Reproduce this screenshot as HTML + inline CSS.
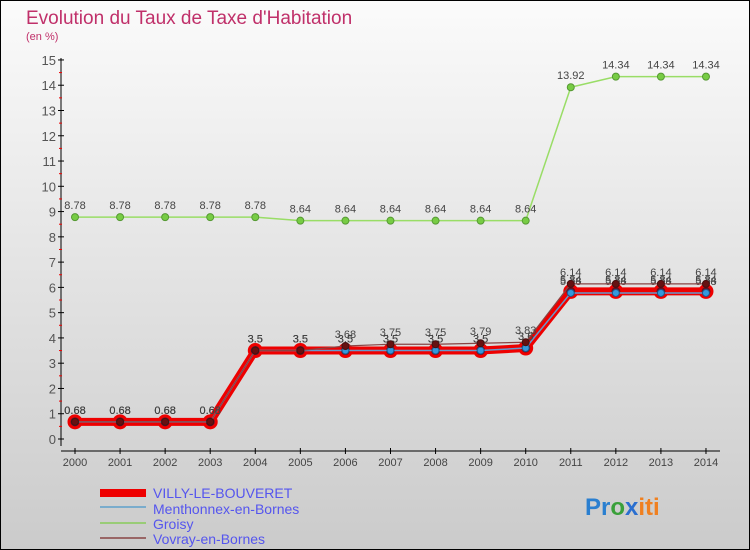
<!DOCTYPE html>
<html><head><meta charset="utf-8"><style>
body{margin:0;width:750px;height:550px;overflow:hidden;font-family:"Liberation Sans",sans-serif}
svg{display:block}
</style></head><body>
<svg id="chart" width="750" height="550" xmlns="http://www.w3.org/2000/svg">
<defs><linearGradient id="bg" x1="0" y1="0" x2="0" y2="1"><stop offset="0" stop-color="#fbfbfb"/><stop offset="1" stop-color="#cbcbcb"/></linearGradient></defs>
<rect x="0.5" y="0.5" width="749" height="549" fill="url(#bg)" stroke="#000"/>
<text x="26" y="24" font-size="19" fill="#c0306a">Evolution du Taux de Taxe d'Habitation</text>
<text x="26" y="40" font-size="11" fill="#c0306a">(en %)</text>
<g id="axes"></g><g id="series"></g>
<g font-size="14" fill="#5555ee">
<rect x="100" y="489" width="46" height="8" fill="#e00"/>
<text x="153" y="498">VILLY-LE-BOUVERET</text>
<line x1="100" y1="507" x2="146" y2="507" stroke="#7aaccc" stroke-width="2"/>
<text x="153" y="514">Menthonnex-en-Bornes</text>
<line x1="100" y1="523" x2="146" y2="523" stroke="#99cc77" stroke-width="2"/>
<text x="153" y="529">Groisy</text>
<line x1="100" y1="538" x2="146" y2="538" stroke="#996666" stroke-width="2"/>
<text x="153" y="544">Vovray-en-Bornes</text>
</g>
<text x="585" y="515" font-size="24" font-weight="bold"><tspan fill="#2a7fd0">Pr</tspan><tspan fill="#3aa03a">o</tspan><tspan fill="#2a6fd0">x</tspan><tspan fill="#f08020">iti</tspan></text>
</svg>
<script>
const years=[2000,2001,2002,2003,2004,2005,2006,2007,2008,2009,2010,2011,2012,2013,2014];
const villy=[0.68,0.68,0.68,0.68,3.5,3.5,3.5,3.5,3.5,3.5,3.6,5.84,5.84,5.84,5.84];
const menthonnex=[0.68,0.68,0.68,0.68,3.5,3.5,3.5,3.5,3.5,3.5,3.6,5.78,5.78,5.78,5.78];
const groisy=[8.78,8.78,8.78,8.78,8.78,8.64,8.64,8.64,8.64,8.64,8.64,13.92,14.34,14.34,14.34];
const vovray=[0.68,0.68,0.68,0.68,3.5,3.5,3.68,3.75,3.75,3.79,3.83,6.14,6.14,6.14,6.14];
const yTicks=[0,1,2,3,4,5,6,7,8,9,10,11,12,13,14,15];
const NS="http://www.w3.org/2000/svg";
const x=i=>75+i*45.07, y=v=>439-v*25.27;
function mk(t,a,p){const e=document.createElementNS(NS,t);for(const k in a)e.setAttribute(k,a[k]);if(p)p.appendChild(e);return e;}
const ax=document.getElementById('axes'), se=document.getElementById('series');
const yl=mk('line',{x1:61,y1:58,x2:61,y2:446,stroke:'#000'},ax);


const xl=mk('line',{x1:61,y1:451,x2:720,y2:451,stroke:'#000'},ax);


yTicks.forEach(v=>{
  mk('line',{x1:58,y1:y(v),x2:64,y2:y(v),stroke:'#000'},ax);
  if(v<15)mk('line',{x1:59,y1:y(v+0.5),x2:62,y2:y(v+0.5),stroke:'#e00'},ax);
  const t=mk('text',{x:56,y:y(v)+5,'font-size':13,fill:'#555','text-anchor':'end'},ax);t.textContent=v;
  
  
});
years.forEach((yr,i)=>{
  mk('line',{x1:x(i),y1:448,x2:x(i),y2:454,stroke:'#000'},ax);
  const t=mk('text',{x:x(i),y:466,'font-size':11,fill:'#444','text-anchor':'middle'},ax);t.textContent=yr;
  
  
});
function series(name,data,color,w,dot,dotStroke,r){
  const g=mk('g',{},se);
  
  
  mk('polyline',{points:data.map((v,i)=>x(i)+','+y(v)).join(' '),fill:'none',stroke:color,'stroke-width':w,'stroke-linejoin':'round'},g);
  data.forEach((v,i)=>{
    const c=mk('circle',{cx:x(i),cy:y(v),r:r,fill:dot,stroke:dotStroke,'stroke-width':r>4?3:1},g);
    
    
    const t=mk('text',{x:x(i),y:y(v)-8,'font-size':11,fill:'#444','text-anchor':'middle'},g);t.textContent=v;
  });
}
series('groisy',groisy,'#99dd66',1.5,'#77cc44','#559933',3.5);
series('villy',villy,'#e00',8,'#661122','#e00',6);
series('menthonnex',menthonnex,'#6699cc',1.5,'#3399dd','#225588',3.5);
series('vovray',vovray,'#884444',1.2,'#661111','#441111',3.5);
</script>
</body></html>
